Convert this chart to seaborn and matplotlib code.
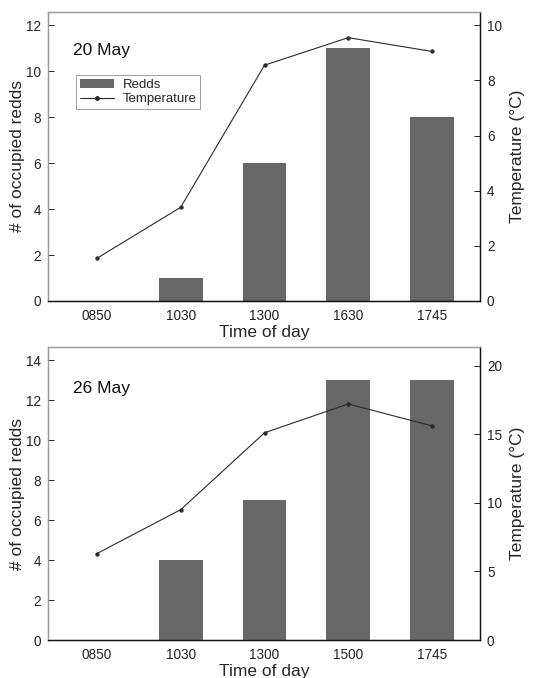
import matplotlib
matplotlib.use("Agg")
import matplotlib.pyplot as plt
import seaborn as sns
import pandas as pd
from matplotlib.patches import Patch
from matplotlib.lines import Line2D

# ---- data ----
times_20 = ["0850", "1030", "1300", "1630", "1745"]
redds_20 = [0, 1, 6, 11, 8]
temp_20 = [1.55, 3.4, 8.55, 9.55, 9.05]

times_26 = ["0850", "1030", "1300", "1500", "1745"]
redds_26 = [0, 4, 7, 13, 13]
temp_26 = [6.3, 9.5, 15.1, 17.2, 15.6]

sns.set_style("white")
plt.rcParams['font.family'] = ['Liberation Sans', 'DejaVu Sans']

fig = plt.figure(figsize=(5.40, 6.78), dpi=100)

panels = [
    dict(times=times_20, redds=redds_20, temp=temp_20, label="20 May",
         rect=[48/540, 1-301/678, 432/540, 289/678],
         ylim=(0, 12.57), yticks=[0, 2, 4, 6, 8, 10, 12],
         tlim=(0, 10.48), tticks=[0, 2, 4, 6, 8, 10], legend=True),
    dict(times=times_26, redds=redds_26, temp=temp_26, label="26 May",
         rect=[48/540, 1-640/678, 432/540, 293/678],
         ylim=(0, 14.65), yticks=[0, 2, 4, 6, 8, 10, 12, 14],
         tlim=(0, 21.35), tticks=[0, 5, 10, 15, 20], legend=False),
]

bar_color = "#676767"
line_color = "#2a2a2a"

for p in panels:
    ax = fig.add_axes(p["rect"])
    df = pd.DataFrame({"time": p["times"], "redds": p["redds"], "temp": p["temp"]})
    sns.barplot(data=df, x="time", y="redds", order=p["times"], color=bar_color,
                width=0.52, saturation=1, edgecolor="none", ax=ax)
    ax2 = ax.twinx()
    sns.pointplot(data=df, x="time", y="temp", order=p["times"], color=line_color,
                  markersize=2.5, linewidth=0.8, ax=ax2)
    ax.set_xlim(-0.585, 4.573)
    ax2.set_xlim(-0.585, 4.573)
    ax.set_ylim(*p["ylim"])
    ax.set_yticks(p["yticks"])
    ax2.set_ylim(*p["tlim"])
    ax2.set_yticks(p["tticks"])

    ax.set_xlabel("Time of day", fontsize=12.5, labelpad=1)
    ax.set_ylabel("# of occupied redds", fontsize=12.5, labelpad=1)
    ax2.set_ylabel("Temperature (°C)", fontsize=12.5, labelpad=6)

    for a in (ax, ax2):
        a.tick_params(axis="both", direction="in", length=4, width=0.7,
                      labelsize=9.8, colors="#222222", pad=5)
    ax.tick_params(axis="x", pad=6)

    for s in ["left", "top"]:
        ax.spines[s].set_color("#9a9a9a")
        ax2.spines[s].set_color("#9a9a9a")
    for s in ["bottom", "right"]:
        ax.spines[s].set_color("#111111")
        ax2.spines[s].set_color("#111111")
    for a in (ax, ax2):
        for s in a.spines.values():
            s.set_linewidth(0.9)

    ax.text(0.058, 0.866 if p["legend"] else 0.86, p["label"], transform=ax.transAxes,
            fontsize=12.5, ha="left", va="center", color="#111111")

    if p["legend"]:
        handles = [Patch(facecolor=bar_color, edgecolor="none", label="Redds"),
                   Line2D([], [], color=line_color, lw=0.8, marker="o", markersize=2.5,
                          label="Temperature")]
        leg = ax2.legend(handles=handles, loc="upper left",
                         bbox_to_anchor=(0.05, 0.805), fontsize=9.5, frameon=True,
                         fancybox=False, edgecolor="#888888", borderpad=0.3,
                         handlelength=2.6, handleheight=0.7, labelspacing=0.15,
                         handletextpad=0.6)
        leg.get_frame().set_linewidth(0.7)

fig.savefig("out.png", dpi=100)
